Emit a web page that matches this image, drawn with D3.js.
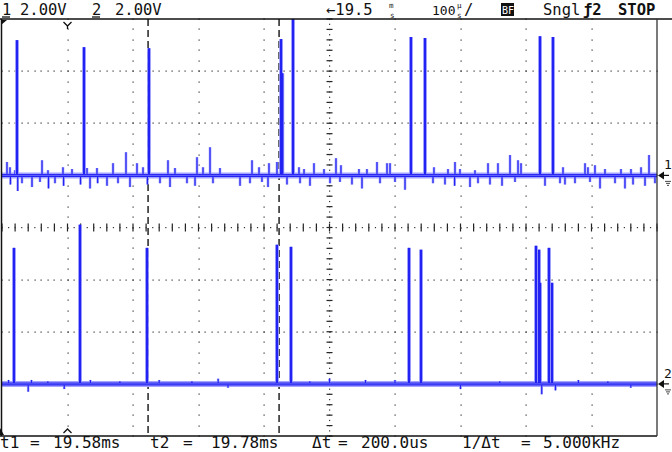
<!DOCTYPE html>
<html><head><meta charset="utf-8">
<script src="https://cdn.jsdelivr.net/npm/d3@7"></script>
<style>html,body{margin:0;padding:0;background:#fff}svg{display:block}</style>
</head><body>
<svg id="c" width="672" height="452"></svg>
<script>
// ---- data (time in µs from left screen edge, values in volts) ----
const timeDomain = [0, 1000];          // 10 div x 100 µs
const voltDomain = [-8, 8];            // 8 div x 2 V
const ch1Offset = 2, ch2Offset = -6;   // channel positions (V)
const cursorTimes = [223, 423];
const triggerTime = 100;
const ch1Pulses = [[22.9,5.19],[125.2,4.92],[224.4,4.88],[426.0,5.23],[428.0,3.92],[444.3,7.0],[624.4,5.31],[645.8,5.27],[821.4,5.34],[841.2,5.31]];
const ch2Pulses = [[18.3,5.22],[119.1,6.11],[221.4,5.22],[419.8,5.34],[441.2,5.26],[621.4,5.22],[639.7,5.15],[815.3,5.30],[819.9,5.15],[821.4,3.88],[835.1,5.22],[839.7,3.88]];
const ch1NoiseUp = [[7.6,0.51],[12.2,0.31],[19.8,0.2],[61.1,0.58],[70.2,0.2],[93.1,0.31],[106.9,0.24],[129.8,0.28],[145.0,0.28],[169.5,0.47],[189.3,0.89],[206.1,0.47],[215.3,0.31],[253.4,0.58],[264.1,0.28],[297.7,0.7],[306.9,0.31],[317.6,1.08],[332.8,0.28],[381.7,0.58],[392.4,0.31],[407.6,0.47],[419.8,0.51],[453.4,0.31],[461.1,0.24],[476.3,0.47],[491.6,0.24],[509.9,0.66],[517.5,0.39],[545.0,0.24],[557.2,0.24],[572.5,0.51],[587.8,0.47],[592.4,0.47],[659.5,0.31],[680.9,0.24],[691.6,0.51],[699.2,0.24],[722.1,0.2],[742.0,0.47],[757.2,0.47],[775.6,0.78],[787.8,0.58],[792.4,0.47],[856.5,0.31],[890.1,0.47],[894.6,0.31],[905.3,0.39],[920.6,0.24],[945.0,0.24],[960.3,0.24],[975.6,0.31],[987.8,0.78]];
const ch1NoiseDown = [[12.9,-0.35],[24.0,-0.6],[30.5,-0.3],[45.8,-0.45],[58.0,-0.25],[71.0,-0.5],[80.9,-0.3],[94.0,-0.4],[119.9,-0.35],[134.4,-0.5],[146.0,-0.3],[160.3,-0.4],[177.1,-0.3],[195.4,-0.45],[222.0,-0.35],[241.2,-0.3],[256.5,-0.45],[282.4,-0.3],[294.7,-0.4],[322.1,-0.3],[363.4,-0.4],[378.6,-0.3],[396.9,-0.25],[406.1,-0.45],[435.1,-0.35],[455.0,-0.3],[470.2,-0.4],[500.8,-0.3],[516.0,-0.25],[534.3,-0.35],[549.6,-0.5],[577.1,-0.3],[600.0,-0.25],[615.3,-0.55],[658.0,-0.3],[676.3,-0.35],[691.0,-0.4],[714.5,-0.45],[726.7,-0.3],[745.0,-0.35],[763.4,-0.4],[783.2,-0.25],[829.0,-0.4],[851.9,-0.3],[859.5,-0.35],[874.8,-0.3],[897.7,-0.25],[913.0,-0.5],[935.9,-0.3],[951.1,-0.5],[963.4,-0.35],[981.7,-0.4],[996.9,-0.3]];
const ch2Noise = [[10,0.15],[40,-0.3],[45,0.15],[70,0.1],[95,-0.2],[135,0.15],[180,0.1],[240,0.15],[290,0.1],[330,0.2],[345,-0.15],[470,0.1],[500,0.2],[555,0.15],[600,0.15],[700,-0.2],[760,0.1],[824,-0.4],[845,-0.25],[880,0.15],[925,0.1],[960,-0.15]];
const headerTexts = [["1",2],["2.00V",20],["2",92],["2.00V",115]];
const footerTexts = [["t1",0],["=",30],["19.58ms",53],["t2",150],["=",183],["19.78ms",211],["Δt",312],["=",338],["200.0us",361],["1/Δt",462],["=",521],["5.000kHz",543]];

// ---- layout ----
const L = 2, R = 657, T = 19, B = 436;
const x = d3.scaleLinear().domain(timeDomain).range([L, R]);
const y = d3.scaleLinear().domain(voltDomain).range([B, T]);
const svg = d3.select("#c");
const mono = "'DejaVu Sans Mono', monospace";

// grid
const g = svg.append("g");
const vDots = d3.range(voltDomain[0], voltDomain[1] + 0.001, 0.4);
const tDots = d3.range(timeDomain[0], timeDomain[1] + 0.001, 10);
for (let i = 1; i < 10; i++) {
  if (i === 5) continue;
  const t = i * 100;
  g.selectAll(null).data(vDots).enter().append("rect")
    .attr("x", Math.round(x(t)) - 0.5).attr("y", d => Math.round(y(d)) - 0.5)
    .attr("width", 1.2).attr("height", 1.2).attr("fill", "#333");
}
for (let j = 1; j < 8; j++) {
  if (j === 4) continue;
  const v = voltDomain[0] + j * 2;
  g.selectAll(null).data(tDots).enter().append("rect")
    .attr("x", d => Math.round(x(d)) - 0.5).attr("y", Math.round(y(v)) - 0.5)
    .attr("width", 1.2).attr("height", 1.2).attr("fill", "#333");
}
// center axes
const cx = x(500), cy = y(0);
g.selectAll(null).data(d3.range(voltDomain[0], voltDomain[1] + 0.001, 0.4)).enter().append("line")
  .attr("x1", cx - 3).attr("x2", cx + 3).attr("y1", d => y(d)).attr("y2", d => y(d))
  .attr("stroke", "#222").attr("stroke-width", 1.2);
g.selectAll(null).data(d3.range(voltDomain[0], voltDomain[1] + 0.001, 0.2)).enter().append("rect")
  .attr("x", cx - 0.5).attr("y", d => y(d) - 0.5).attr("width", 1.2).attr("height", 1.2).attr("fill", "#333");
g.selectAll(null).data(d3.range(timeDomain[0], timeDomain[1] + 0.001, 20)).enter().append("line")
  .attr("y1", cy - 4).attr("y2", cy + 4).attr("x1", d => x(d)).attr("x2", d => x(d))
  .attr("stroke", "#222").attr("stroke-width", 1.2);
g.selectAll(null).data(d3.range(timeDomain[0], timeDomain[1] + 0.001, 10)).enter().append("rect")
  .attr("y", cy - 0.5).attr("x", d => x(d) - 0.5).attr("width", 1.2).attr("height", 1.2).attr("fill", "#333");

// cursors
svg.selectAll(null).data(cursorTimes).enter().append("line")
  .attr("x1", d => x(d)).attr("x2", d => x(d)).attr("y1", T).attr("y2", B)
  .attr("stroke", "#000").attr("stroke-width", 1.3).attr("stroke-dasharray", "7,4");

// traces
svg.append("defs").append("clipPath").attr("id", "clip")
  .append("rect").attr("x", L).attr("y", T).attr("width", R - L).attr("height", B - T);
const tg = svg.append("g").attr("clip-path", "url(#clip)");
const HALO = "#a4a4ff", CORE = "#2222f2";
function drawChannel(off, pulses, noise) {
  tg.append("line").attr("x1", x(timeDomain[0])).attr("x2", x(timeDomain[1]))
    .attr("y1", y(off)).attr("y2", y(off)).attr("stroke", HALO).attr("stroke-width", 6);
  const ng = tg.append("g");
  ng.selectAll(null).data(noise).enter().append("line")
    .attr("x1", d => x(d[0])).attr("x2", d => x(d[0])).attr("y1", y(off)).attr("y2", d => y(off + d[1]))
    .attr("stroke", HALO).attr("stroke-width", 2.6);
  ng.selectAll(null).data(noise).enter().append("line")
    .attr("x1", d => x(d[0])).attr("x2", d => x(d[0])).attr("y1", y(off)).attr("y2", d => y(off + d[1]))
    .attr("stroke", CORE).attr("stroke-width", 1.2);
  const pg = tg.append("g");
  pg.selectAll(null).data(pulses).enter().append("line")
    .attr("x1", d => x(d[0])).attr("x2", d => x(d[0])).attr("y1", y(off)).attr("y2", d => y(off + d[1]))
    .attr("stroke", HALO).attr("stroke-width", 3.8);
  pg.selectAll(null).data(pulses).enter().append("line")
    .attr("x1", d => x(d[0])).attr("x2", d => x(d[0])).attr("y1", y(off)).attr("y2", d => y(off + d[1]))
    .attr("stroke", CORE).attr("stroke-width", 2.2);
  tg.append("line").attr("x1", x(timeDomain[0])).attr("x2", x(timeDomain[1]))
    .attr("y1", y(off)).attr("y2", y(off)).attr("stroke", CORE).attr("stroke-width", 3);
  tg.append("line").attr("x1", x(timeDomain[0])).attr("x2", x(timeDomain[1]))
    .attr("y1", y(off)).attr("y2", y(off)).attr("stroke", "#7a7aff").attr("stroke-width", 0.8);
}
drawChannel(ch1Offset, ch1Pulses, ch1NoiseUp.concat(ch1NoiseDown));
drawChannel(ch2Offset, ch2Pulses, ch2Noise);

// frame
svg.append("line").attr("x1", 0).attr("x2", 672).attr("y1", T).attr("y2", T).attr("stroke", "#111").attr("stroke-width", 1.3);
svg.append("line").attr("x1", 0).attr("x2", R).attr("y1", B).attr("y2", B).attr("stroke", "#111").attr("stroke-width", 1.3);
svg.append("line").attr("x1", L - 0.5).attr("x2", L - 0.5).attr("y1", T).attr("y2", B).attr("stroke", "#111").attr("stroke-width", 1.5);
svg.append("line").attr("x1", R).attr("x2", R).attr("y1", T).attr("y2", B).attr("stroke", "#333").attr("stroke-width", 1.3);

// trigger markers
const tx = x(triggerTime);
svg.append("path").attr("d", `M${tx-4},${T+3}L${tx},${T+7}L${tx+4},${T+3}M${tx},${T+7}L${tx},${T+10}`).attr("fill", "none").attr("stroke", "#111").attr("stroke-width", 1.3);
svg.append("path").attr("d", `M${tx-4},${B-3}L${tx},${B-7}L${tx+4},${B-3}`).attr("fill", "none").attr("stroke", "#111").attr("stroke-width", 1.3);
svg.append("path").attr("d", `M${L-1},${T+1}L${L+5},${T+1}L${L-1},${T+6}Z`).attr("fill", "#111");
svg.append("path").attr("d", `M${L-2},${B-8}L${L+2},${B-1}L${L-2},${B-1}Z`).attr("fill", "#111");

// channel markers on right
[[ch1Offset, "1"], [ch2Offset, "2"]].forEach(([o, lab]) => {
  const yy = y(o);
  svg.append("path").attr("d", `M${R+1},${yy}L${R+7},${yy-4}L${R+7},${yy+4}Z`).attr("fill", "#111");
  svg.append("line").attr("x1", R + 6).attr("x2", R + 12).attr("y1", yy).attr("y2", yy).attr("stroke", "#111").attr("stroke-width", 1.2);
  svg.append("text").attr("x", R + 7).attr("y", yy - 6).attr("font-family", mono).attr("font-size", 13).attr("fill", "#111").text(lab);
  svg.append("path").attr("d", `M${R+8},${yy+6}L${R+14},${yy+6}M${R+9},${yy+8}L${R+13},${yy+8}M${R+10},${yy+10}L${R+12},${yy+10}`).attr("stroke", "#333").attr("stroke-width", 0.9);
});

// header
const hdr = svg.append("g").attr("font-family", mono).attr("font-size", 15.5).attr("fill", "#111");
headerTexts.forEach(([s, xx]) => hdr.append("text").attr("x", xx).attr("y", 15).text(s));
hdr.append("line").attr("x1", 2).attr("x2", 10).attr("y1", 17).attr("y2", 17).attr("stroke", "#111").attr("stroke-width", 1.3);
hdr.append("line").attr("x1", 92).attr("x2", 100).attr("y1", 17).attr("y2", 17).attr("stroke", "#111").attr("stroke-width", 1.3);
hdr.append("text").attr("x", 326).attr("y", 15).text("←19.5");
hdr.append("text").attr("x", 389).attr("y", 8).attr("font-size", 7.5).text("m");
hdr.append("text").attr("x", 390).attr("y", 17.5).attr("font-size", 7.5).text("s");
hdr.append("text").attr("x", 432).attr("y", 15).attr("font-size", 13).text("100");
hdr.append("text").attr("x", 457).attr("y", 8).attr("font-size", 7.5).text("µ");
hdr.append("text").attr("x", 457).attr("y", 17.5).attr("font-size", 7.5).text("s");
hdr.append("text").attr("x", 464).attr("y", 15).text("/");
hdr.append("rect").attr("x", 501).attr("y", 3).attr("width", 13).attr("height", 13).attr("fill", "#111");
hdr.append("text").attr("x", 502).attr("y", 14).attr("font-size", 10).attr("fill", "#fff").text("BF");
hdr.append("text").attr("x", 543).attr("y", 15).text("Sngl");
hdr.append("text").attr("x", 583).attr("y", 15).attr("font-weight", "bold").text("ƒ2");
hdr.append("text").attr("x", 618).attr("y", 15).attr("font-weight", "bold").text("STOP");

// footer
const ft = svg.append("g").attr("font-family", mono).attr("font-size", 16).attr("fill", "#111");
footerTexts.forEach(([s, xx]) => ft.append("text").attr("x", xx).attr("y", 447.5).text(s));
</script>
</body></html>
